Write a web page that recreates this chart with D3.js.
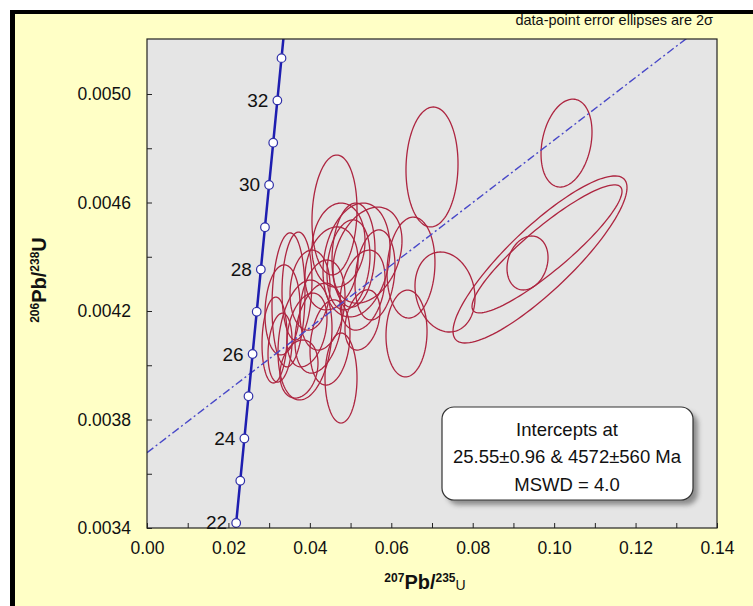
<!DOCTYPE html>
<html><head><meta charset="utf-8">
<script src="https://cdn.jsdelivr.net/npm/d3@7"></script>
<style>
html,body{margin:0;padding:0;background:#fff;}
svg{display:block;font-family:"Liberation Sans",Arial,sans-serif;}
</style></head>
<body><svg id="c" width="753" height="606"></svg>
<script>
// ---- data ----
const xTickValues = [0,0.01,0.02,0.03,0.04,0.05,0.06,0.07,0.08,0.09,0.10,0.11,0.12,0.13,0.14];
const xTickLabels = ["0.00","","0.02","","0.04","","0.06","","0.08","","0.10","","0.12","","0.14"];
const yTickValues = [0.0034,0.0036,0.0038,0.0040,0.0042,0.0044,0.0046,0.0048,0.0050];
const yTickLabels = ["0.0034","","0.0038","","0.0042","","0.0046","","0.0050"];

// concordia ages (Ma) and ratios
const concAge = [21,22,23,24,25,26,27,28,29,30,31,32,33,34];
const concX = [0.0208972,0.0219031,0.0229101,0.0239180,0.0249269,0.0259368,0.0269476,0.0279595,0.0289724,0.0299863,0.0310012,0.0320171,0.0330340,0.0340519];
const concY = [0.00326294,0.00341858,0.00357425,0.00372994,0.00388566,0.0040414,0.00419716,0.00435295,0.00450876,0.0046646,0.00482046,0.00497634,0.00513225,0.00528818];
const concMarkAges = [22,23,24,25,26,27,28,29,30,31,32,33];
const concLabelAges = [22,24,26,28,30,32];

// discordia end points
const discX = [0.0, 0.14];
const discY = [0.0036776, 0.0052911];

// data-point error ellipses (2 sigma)
const ellX  = [0.07000,0.10304,0.09653,0.09825,0.09346,0.07319,0.06484,0.06374,0.04605,0.04765,0.03132,0.03267,0.03475,0.03684,0.03881,0.03930,0.04532,0.04704,0.05072,0.04212,0.04949,0.05146,0.05416,0.03733,0.04004,0.04311,0.05293,0.04495,0.05600,0.03328,0.05293];
const ellY  = [0.004731,0.004819,0.004390,0.004429,0.004377,0.004270,0.004360,0.004117,0.004554,0.003953,0.004093,0.004065,0.004241,0.004292,0.004093,0.004130,0.004357,0.004443,0.004406,0.004137,0.004370,0.004388,0.004406,0.003986,0.004277,0.004222,0.004277,0.004084,0.004333,0.004204,0.004167];
const ellSX = [0.00639,0.00626,0.02137,0.01842,0.00504,0.00737,0.00589,0.00504,0.00553,0.00393,0.00307,0.00295,0.00405,0.00368,0.00663,0.00491,0.00651,0.00651,0.00528,0.00577,0.00528,0.00823,0.00847,0.00467,0.00491,0.00553,0.00553,0.00491,0.00491,0.00430,0.00430];
const ellSY = [0.000221,0.000162,0.000308,0.000236,0.0000995,0.0001475,0.000186,0.000160,0.000221,0.000166,0.0001585,0.000127,0.000247,0.000199,0.000221,0.000136,0.000153,0.000155,0.000192,0.000166,0.000166,0.000210,0.000177,0.000107,0.0001475,0.000166,0.0001475,0.000157,0.000166,0.000166,0.000111];
const ellRho = [0.05,0.25,0.86,0.9,0.2,-0.15,0.1,0.05,0.1,0,0.1,0.2,0.1,0.1,0.2,0.3,0.2,0.1,0.1,0.3,0.2,0.2,0.3,0.2,0.1,0.2,0.3,0.2,0.2,0.1,0.3];

const legendLines = ["Intercepts at","25.55\u00b10.96 & 4572\u00b1560 Ma","MSWD = 4.0"];
const noteText = "data-point error ellipses are 2\u03c3";

// ---- drawing ----
(function(){
const svg = d3.select("#c");
const W = 753, H = 606;
const pL = 147, pR = 717, pT = 39, pB = 528;
const x = d3.scaleLinear().domain([0,0.14]).range([pL,pR]);
const y = d3.scaleLinear().domain([0.0034,0.0034+(pB-pT)/271250]).range([pB,pT]);

// chart area frame
svg.append("rect").attr("x",0).attr("y",0).attr("width",W).attr("height",H).attr("fill","#fff");
svg.append("rect").attr("x",10).attr("y",10).attr("width",W+20).attr("height",H+20).attr("fill","#000");
svg.append("rect").attr("x",15).attr("y",14).attr("width",W+20).attr("height",H+20).attr("fill","#FFFFC6");

const defs = svg.append("defs");
defs.append("clipPath").attr("id","clip").append("rect")
  .attr("x",pL).attr("y",pT).attr("width",pR-pL).attr("height",pB-pT);
const f = defs.append("filter").attr("id","sh").attr("x","-10%").attr("y","-10%").attr("width","130%").attr("height","140%");
f.append("feGaussianBlur").attr("stdDeviation",2.5);

// plot area
svg.append("rect").attr("x",pL).attr("y",pT).attr("width",pR-pL).attr("height",pB-pT)
  .attr("fill","#E5E5E5");

const g = svg.append("g").attr("clip-path","url(#clip)");

// ellipses
const ellData = ellX.map((cx,i)=>({cx,cy:ellY[i],sx:ellSX[i],sy:ellSY[i],r:ellRho[i]}));
const eLine = d3.line().curve(d3.curveLinearClosed);
g.selectAll("path.ell").data(ellData).join("path").attr("class","ell")
  .attr("d",d=>{
    const pts=[];
    const k=Math.sqrt(1-d.r*d.r);
    for(let i=0;i<120;i++){const t=i/120*2*Math.PI;
      pts.push([x(d.cx+d.sx*Math.cos(t)), y(d.cy+d.sy*(d.r*Math.cos(t)+k*Math.sin(t)))]);}
    return eLine(pts);
  })
  .attr("fill","none").attr("stroke","#AD2540").attr("stroke-width",1.3);

// discordia
g.append("path").attr("d",d3.line()(discX.map((v,i)=>[x(v),y(discY[i])])))
  .attr("stroke","#4848C8").attr("stroke-width",1.4).attr("fill","none")
  .attr("stroke-dasharray","8,3,2,3");

// concordia
g.append("path").attr("d",d3.line()(concX.map((v,i)=>[x(v),y(concY[i])])))
  .attr("stroke","#1E1EB0").attr("stroke-width",2.5).attr("fill","none");
const marks = concMarkAges.map(a=>{const i=concAge.indexOf(a);return {a,x:concX[i],y:concY[i]};});
svg.selectAll("circle.cm").data(marks).join("circle").attr("class","cm")
  .attr("cx",d=>x(d.x)).attr("cy",d=>y(d.y)).attr("r",4.3)
  .attr("fill","#fff").attr("stroke","#3030A8").attr("stroke-width",1.2);
svg.selectAll("text.cl").data(marks.filter(d=>concLabelAges.includes(d.a))).join("text").attr("class","cl")
  .attr("x",d=>x(d.x)-9).attr("y",d=>y(d.y)+6.5).attr("text-anchor","end")
  .attr("font-size",19).attr("fill","#111").text(d=>d.a);

// plot border
svg.append("rect").attr("x",pL).attr("y",pT).attr("width",pR-pL).attr("height",pB-pT)
  .attr("fill","none").attr("stroke","#222").attr("stroke-width",1.2);

// axes
const xa = svg.append("g").attr("transform",`translate(0,${pB})`)
  .call(d3.axisBottom(x).tickValues(xTickValues).tickSize(-5).tickPadding(14)
    .tickFormat((d,i)=>xTickLabels[i]));
const ya = svg.append("g").attr("transform",`translate(${pL},0)`)
  .call(d3.axisLeft(y).tickValues(yTickValues).tickSize(-5).tickPadding(16)
    .tickFormat((d,i)=>yTickLabels[i]));
[xa,ya].forEach(a=>{a.select(".domain").remove();
  a.selectAll(".tick line").attr("stroke","#222");
  a.selectAll("text").attr("font-size",17.5).attr("fill","#111").attr("font-family","Liberation Sans, Arial, sans-serif");});

// axis titles
const xt = svg.append("text").attr("x",425).attr("y",589).attr("text-anchor","middle").attr("fill","#111");
xt.append("tspan").attr("font-size",12).attr("font-weight","bold").attr("dy",-7).text("207");
xt.append("tspan").attr("font-size",20).attr("font-weight","bold").attr("dy",7).text("Pb/");
xt.append("tspan").attr("font-size",12).attr("font-weight","bold").attr("dy",-7).text("235");
xt.append("tspan").attr("font-size",14).attr("dy",8).text("U");

const yt = svg.append("text").attr("transform","translate(46,280) rotate(-90)").attr("text-anchor","middle").attr("fill","#111");
yt.append("tspan").attr("font-size",12).attr("font-weight","bold").attr("dy",-7).text("206");
yt.append("tspan").attr("font-size",20).attr("font-weight","bold").attr("dy",7).text("Pb/");
yt.append("tspan").attr("font-size",12).attr("font-weight","bold").attr("dy",-7).text("238");
yt.append("tspan").attr("font-size",20).attr("font-weight","bold").attr("dy",7).text("U");

// note
svg.append("text").attr("x",713).attr("y",25).attr("text-anchor","end")
  .attr("font-size",14.5).attr("fill","#111").text(noteText);

// legend box
svg.append("rect").attr("x",447).attr("y",412).attr("width",251).attr("height",93).attr("rx",12)
  .attr("fill","#777").attr("opacity",0.8).attr("filter","url(#sh)");
svg.append("rect").attr("x",442).attr("y",407).attr("width",251).attr("height",93).attr("rx",12)
  .attr("fill","#fff").attr("stroke","#333").attr("stroke-width",1.2);
svg.selectAll("text.lg").data(legendLines).join("text").attr("class","lg")
  .attr("x",567).attr("y",(d,i)=>435.5+i*27.5).attr("text-anchor","middle")
  .attr("font-size",18.5).attr("fill","#111").text(d=>d);
})();
</script></body></html>
